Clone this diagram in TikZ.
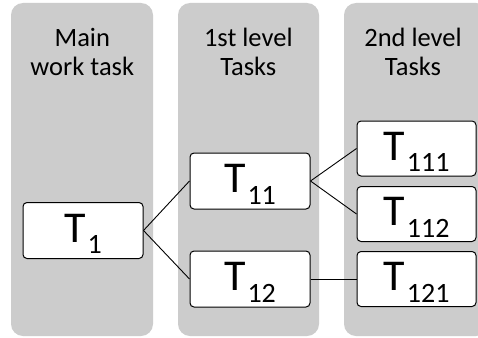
\documentclass[tikz,border=0pt]{standalone}
\usepackage{fontspec}
\setmainfont{Carlito}
\definecolor{colgrey}{HTML}{CCCCCC}
\newcommand\tasklabel[1]{{\fontsize{44}{44}\selectfont T}\kern2pt\raisebox{-11.7pt}{\fontsize{28}{28}\selectfont #1}}
\begin{document}
\begin{tikzpicture}[x=1pt,y=-1pt,
  column/.style={fill=colgrey, rounded corners=12pt},
  head/.style={font=\fontsize{26.5}{30}\selectfont, anchor=base, inner sep=0pt},
  task/.style={draw, line width=1pt, fill=white, rounded corners=4pt,
    minimum width=120pt, minimum height=56pt, inner sep=0pt,
    text height=35pt, text depth=11.7pt},
  link/.style={line width=0.9pt}
]
\useasboundingbox (0,0) rectangle (478,337);
\fill[white] (0,0) rectangle (478,337);
\begin{scope}
\clip (0,0) rectangle (478,337);
\fill[column] (11,3) rectangle (153,336);
\fill[column] (178,3) rectangle (319,336);
\fill[column] (344,3) rectangle (488,336);
\end{scope}

\node[head] (h1a) at (82.3,46.5) {Main};
\node[head] (h1b) at (82.3,75) {work task};
\node[head] (h2a) at (248.3,46.5) {1st level};
\node[head] (h2b) at (248.3,75) {Tasks};
\node[head] (h3a) at (413,46.5) {2nd level};
\node[head] (h3b) at (413,75) {Tasks};

\node[task] (t1) at (83,230.5) {\tasklabel{1}};
\node[task] (t11) at (250,181) {\tasklabel{11}};
\node[task] (t12) at (250,279) {\tasklabel{12}};
\node[task, minimum width=119pt, minimum height=55pt] (t111) at (416.5,148.5) {\tasklabel{111}};
\node[task, minimum width=119pt, minimum height=55pt] (t112) at (416.5,214) {\tasklabel{112}};
\node[task, minimum width=119pt, minimum height=55pt] (t121) at (416.5,279) {\tasklabel{121}};

\draw[link] (t1.east) -- (t11.west);
\draw[link] (t1.east) -- (t12.west);
\draw[link] (t11.east) -- (t111.west);
\draw[link] (t11.east) -- (t112.west);
\draw[link] (t12.east) -- (t121.west);
\end{tikzpicture}
\end{document}
